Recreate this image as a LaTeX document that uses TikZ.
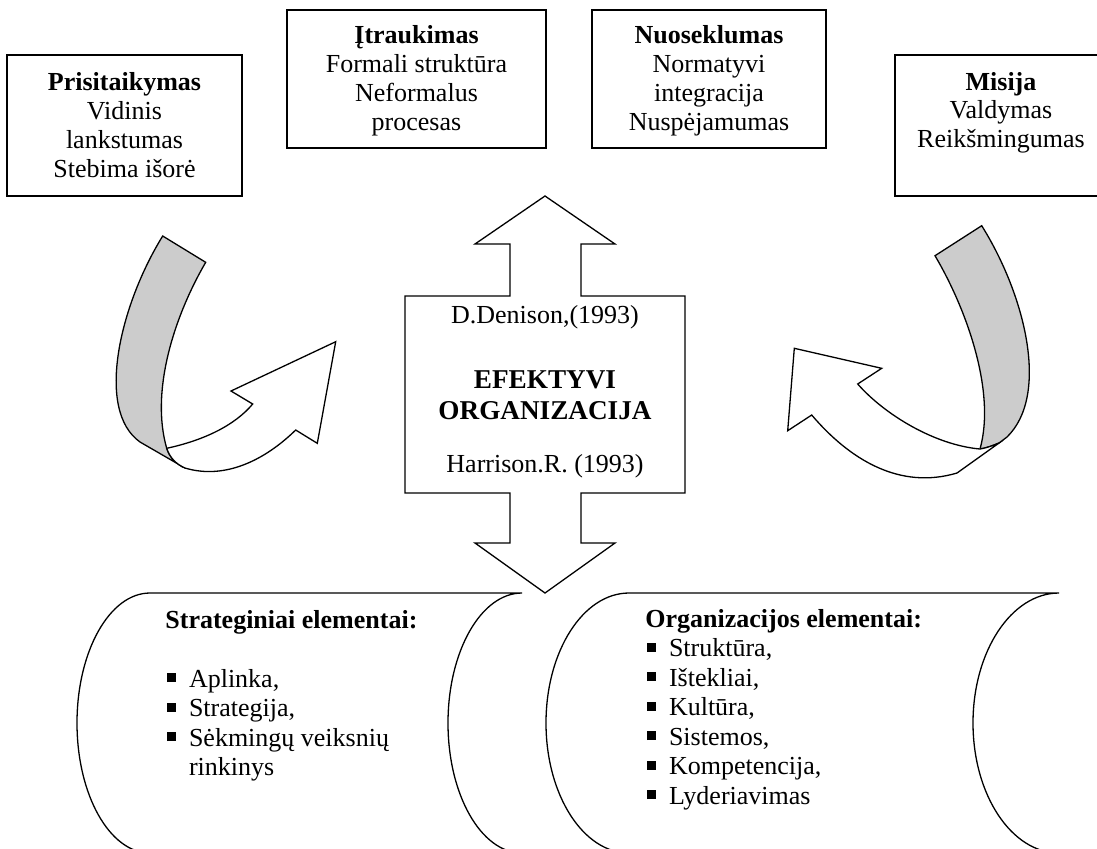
\documentclass[tikz,border=0pt]{standalone}
\usepackage{fontspec}
\setmainfont{Liberation Serif}
% small filled square used as list marker
\newcommand\sqbullet{\makebox[10.8pt][l]{\rule[2.5pt]{4.3pt}{4.3pt}}}
\begin{document}
\begin{tikzpicture}[x=0.5pt,y=-0.5pt,
  outline/.style={draw=black,line width=0.65pt,line join=miter},
  ribbon/.style={outline,fill=black!20},
  face/.style={outline,fill=white},
  txt/.style={inner sep=0pt,font=\fontsize{13}{14.5}\selectfont},
  hd/.style={inner sep=0pt,font=\fontsize{13}{14.5}\selectfont\bfseries},
  big/.style={inner sep=0pt,font=\fontsize{13.6}{15}\selectfont\bfseries}]
\useasboundingbox (0,0) rectangle (1097,848);
\clip (0,0) rectangle (1097,848);

% ---- top boxes ----
\draw[outline] (7,55) rectangle (242,196);
\node[hd,anchor=base]  (p0) at (124.5,90)  {Prisitaikymas};
\node[txt,anchor=base] (p1) at (124.5,119) {Vidinis};
\node[txt,anchor=base] (p2) at (124.5,148) {lankstumas};
\node[txt,anchor=base] (p3) at (124.5,177) {Stebima išorė};

\draw[outline] (287,10) rectangle (546,148);
\node[hd,anchor=base]  (i0) at (416.5,43)  {Įtraukimas};
\node[txt,anchor=base] (i1) at (416.5,72)  {Formali struktūra};
\node[txt,anchor=base] (i2) at (416.5,101) {Neformalus};
\node[txt,anchor=base] (i3) at (416.5,130) {procesas};

\draw[outline] (592,10) rectangle (826,148);
\node[hd,anchor=base]  (n0) at (709,43)  {Nuoseklumas};
\node[txt,anchor=base] (n1) at (709,72)  {Normatyvi};
\node[txt,anchor=base] (n2) at (709,101) {integracija};
\node[txt,anchor=base] (n3) at (709,130) {Nuspėjamumas};

\draw[outline] (895,55) rectangle (1109,196);
\node[hd,anchor=base]  (m0) at (1001,90)    {Misija};
\node[txt,anchor=base] (m1) at (1001,118.5) {Valdymas};
\node[txt,anchor=base] (m2) at (1001,147)   {Reikšmingumas};

% ---- central double arrow ----
\draw[outline] (545,196) -- (615,244) -- (581,244) -- (581,296) -- (685,296)
  -- (685,493) -- (581,493) -- (581,543) -- (615,543) -- (545,593)
  -- (475,543) -- (510,543) -- (510,493) -- (405,493) -- (405,296)
  -- (510,296) -- (510,244) -- (475,244) -- cycle;
\node[txt,anchor=base] (c0) at (545,323) {D.Denison,(1993)};
\node[big,anchor=base] (c1) at (545,388) {EFEKTYVI};
\node[big,anchor=base] (c2) at (545,419) {ORGANIZACIJA};
\node[txt,anchor=base] (c3) at (545,472) {Harrison.R. (1993)};

% ---- left curved arrow ----
\draw[ribbon] (162.7,236) -- (205.7,262.3)
  .. controls (175,315) and (150,390) .. (166.7,448.3)
  .. controls (170,458) and (176,464) .. (185,468)
  -- (140,442)
  .. controls (95,410) and (120,305) .. (162.7,236) -- cycle;
\draw[face] (166.7,448.3) .. controls (205,440) and (235,425) .. (252.7,404)
  -- (231,391) -- (335.7,341.7) -- (317.3,443.3) -- (295.7,430)
  .. controls (265,460) and (225,480) .. (185,468)
  .. controls (176,464) and (170,458) .. (166.7,448.3) -- cycle;

% ---- right curved arrow ----
\draw[ribbon] (935,255.7) -- (981.7,225.7)
  .. controls (1025,295) and (1050,395) .. (1007,437)
  -- (999,443)
  .. controls (992,446) and (986,448) .. (980,449)
  .. controls (996,392) and (967,310) .. (935,255.7) -- cycle;
\draw[face] (980,449) .. controls (935,445) and (885,415) .. (857.7,384)
  -- (881.7,368.3) -- (794.3,348.3) -- (787.7,430.7) -- (811.7,415)
  .. controls (850,460) and (900,490) .. (957,473)
  -- (999,443)
  .. controls (992,446) and (986,448) .. (980,449) -- cycle;

% ---- bottom stored-data shapes ----
\draw[outline] (150,593) -- (522,593)
  arc[start angle=90,end angle=270,x radius=37pt,y radius=65pt]
  -- (150,853)
  arc[start angle=270,end angle=90,x radius=36.5pt,y radius=65pt] -- cycle;
\draw[outline] (629,593) -- (1059,593)
  arc[start angle=90,end angle=270,x radius=43pt,y radius=65pt]
  -- (629,853)
  arc[start angle=270,end angle=90,x radius=41.5pt,y radius=65pt] -- cycle;

\node[hd,anchor=base west]  (sh) at (165,628) {Strateginiai elementai:};
\node[txt,anchor=base west] (s1) at (167,687) {\sqbullet Aplinka,};
\node[txt,anchor=base west] (s2) at (167,716.5) {\sqbullet Strategija,};
\node[txt,anchor=base west] (s3) at (167,746) {\sqbullet Sėkmingų veiksnių};
\node[txt,anchor=base west] (s4) at (188.6,775.5) {rinkinys};

\node[hd,anchor=base west]  (oh) at (645,627) {Organizacijos elementai:};
\node[txt,anchor=base west] (o1) at (647,656.5) {\sqbullet Struktūra,};
\node[txt,anchor=base west] (o2) at (647,686) {\sqbullet Ištekliai,};
\node[txt,anchor=base west] (o3) at (647,715.5) {\sqbullet Kultūra,};
\node[txt,anchor=base west] (o4) at (647,745) {\sqbullet Sistemos,};
\node[txt,anchor=base west] (o5) at (647,774.5) {\sqbullet Kompetencija,};
\node[txt,anchor=base west] (o6) at (647,804) {\sqbullet Lyderiavimas};
\end{tikzpicture}
\end{document}
